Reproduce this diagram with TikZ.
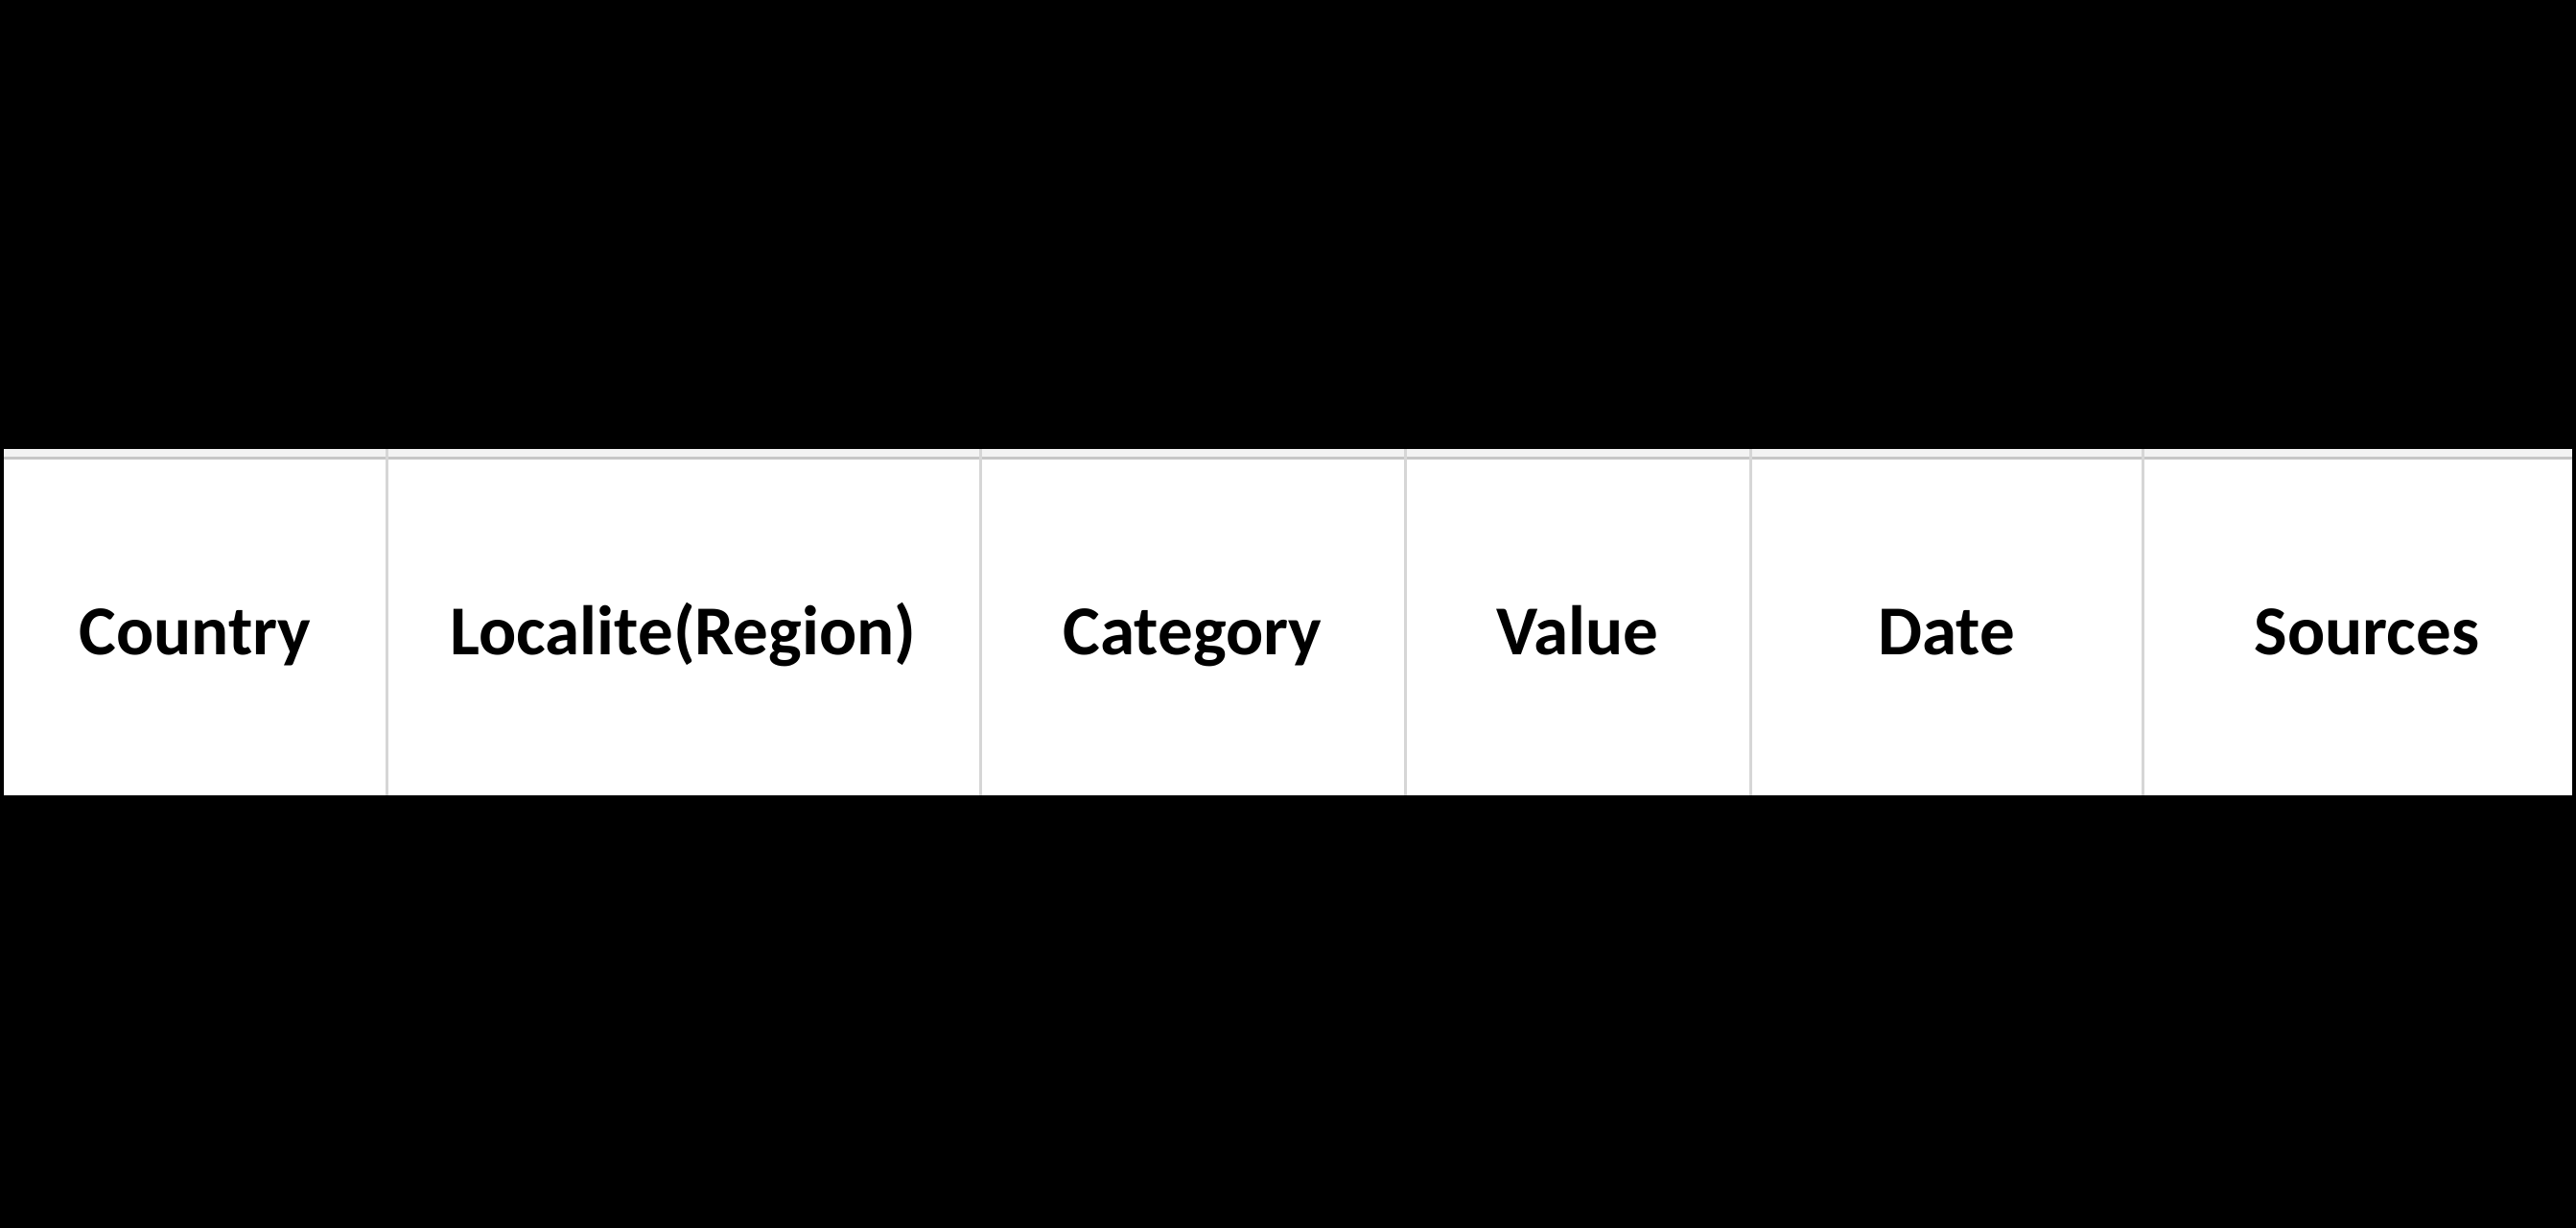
\documentclass[tikz,border=0pt]{standalone}
\usepackage{fontspec}
\setmainfont{Carlito}
\usetikzlibrary{positioning}
\definecolor{bandgray}{HTML}{F3F3F3}
\definecolor{rulegray}{HTML}{C6C6C6}
\definecolor{gridgray}{HTML}{D6D6D6}
\tikzset{%
  % header cells of the table
  cell/.style = {rectangle, inner sep=0pt, outer sep=0pt,
                 minimum height=3.5cm, text height=0.58cm, text depth=0pt,
                 font=\bfseries\fontsize{20.8}{25}\selectfont},
  divider/.style = {draw=gridgray, line width=0.03cm}
}

\begin{document}
\begin{tikzpicture}
  \fill[black] (0,0) rectangle (26.86,12.8);
  \useasboundingbox (0,0) rectangle (26.86,12.8);

  % white strip, top band and rule
  \fill[white] (0.04,4.51) rectangle (26.82,8.01);
  \fill[bandgray] (0.04,8.01) rectangle (26.82,8.12);
  \fill[rulegray] (0.04,8.01) rectangle (26.82,8.04);

  \node[cell, minimum width=3.99cm, anchor=west] (country) at (0.04,6.26) {Country};
  \node[cell, minimum width=6.19cm, right=0pt of country] (region) {Localite(Region)};
  \node[cell, minimum width=4.43cm, right=0pt of region] (category) {Category};
  \node[cell, minimum width=3.60cm, right=0pt of category] (value) {Value};
  \node[cell, minimum width=4.09cm, right=0pt of value] (date) {Date};
  \node[cell, minimum width=4.48cm, right=0pt of date] (sources) {\hspace{0.2cm}Sources};

  \foreach \c in {country,region,category,value,date}
    \draw[divider] (\c.south east) -- ([yshift=0.11cm]\c.north east);
\end{tikzpicture}
\end{document}
